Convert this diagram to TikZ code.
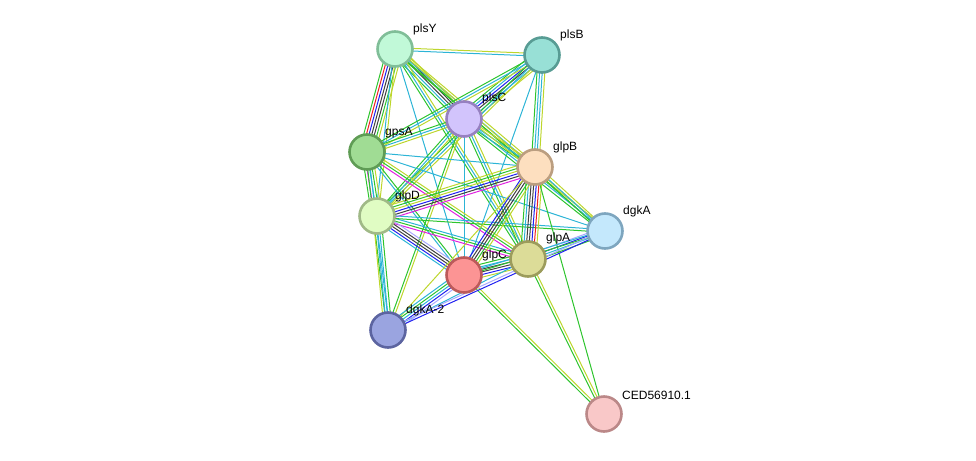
\documentclass[tikz,border=0pt]{standalone}
\usepackage{fontspec}
\setmainfont{Liberation Sans}
\usetikzlibrary{calc}
\definecolor{cN}{HTML}{2DC42D}
\definecolor{cF}{HTML}{F02020}
\definecolor{cC}{HTML}{2020F0}
\definecolor{cX}{HTML}{404040}
\definecolor{cE}{HTML}{E020E0}
\definecolor{cD}{HTML}{2CB4D6}
\definecolor{cT}{HTML}{BDD62C}
\definecolor{cH}{HTML}{A8A8FF}
\tikzset{
  eN/.style={draw=cN}, eF/.style={draw=cF}, eC/.style={draw=cC}, eX/.style={draw=cX},
  eE/.style={draw=cE}, eD/.style={draw=cD}, eT/.style={draw=cT}, eH/.style={draw=cH},
  prot/.style={circle, minimum size=35pt, inner sep=0pt, line width=2.6pt},
  lab/.style={anchor=south west, font=\fontsize{12}{14}\selectfont, inner sep=0pt, text=black}
}
\newcommand\edgeset[4]{%
  \foreach \cc [count=\ii] in {#4} {%
    \pgfmathsetmacro\off{(\ii-(#3+1)/2)*2.6}%
    \draw[\cc, line width=1pt] ($(#1)!\off pt!90:(#2)$) -- ($(#2)!\off pt!-90:(#1)$);
  }%
}
\begin{document}
\begin{tikzpicture}[x=1pt,y=-1pt]
\useasboundingbox (0,0) rectangle (976,460);
\coordinate (plsY) at (395,49);
\coordinate (plsB) at (542,55);
\coordinate (plsC) at (464,119);
\coordinate (gpsA) at (367,152);
\coordinate (glpB) at (535,167);
\coordinate (glpD) at (377,216);
\coordinate (dgkA) at (605,231);
\coordinate (glpA) at (528,259);
\coordinate (glpC) at (464,275);
\coordinate (dgkA2) at (388,330);
\coordinate (CED) at (604,414);
% edges
\edgeset{plsY}{plsB}{2}{eD,eT}
\edgeset{plsY}{plsC}{5}{eN,eD,eX,eX,eT}
\edgeset{plsY}{gpsA}{7}{eN,eF,eC,eX,eX,eN,eT}
\edgeset{plsY}{glpD}{2}{eD,eT}
\edgeset{plsY}{glpB}{3}{eN,eD,eT}
\edgeset{plsY}{glpA}{3}{eN,eD,eT}
\edgeset{plsY}{glpC}{1}{eD}
\edgeset{plsY}{dgkA}{2}{eN,eT}
\edgeset{plsB}{plsC}{6}{eN,eD,eC,eX,eD,eT}
\edgeset{plsB}{gpsA}{3}{eN,eD,eT}
\edgeset{plsB}{glpD}{3}{eN,eD,eT}
\edgeset{plsB}{glpB}{4}{eN,eD,eD,eT}
\edgeset{plsB}{glpC}{1}{eD}
\edgeset{plsC}{gpsA}{3}{eN,eD,eT}
\edgeset{plsC}{glpD}{3}{eN,eD,eT}
\edgeset{plsC}{glpB}{3}{eN,eD,eT}
\edgeset{plsC}{glpA}{3}{eN,eD,eT}
\edgeset{plsC}{glpC}{1}{eD}
\edgeset{plsC}{dgkA}{3}{eN,eD,eT}
\edgeset{plsC}{dgkA2}{2}{eN,eT}
\edgeset{gpsA}{glpD}{5}{eN,eE,eD,eN,eT}
\edgeset{gpsA}{glpB}{1}{eD}
\edgeset{gpsA}{glpA}{3}{eE,eN,eT}
\edgeset{gpsA}{glpC}{2}{eD,eN}
\edgeset{gpsA}{dgkA}{1}{eD}
\edgeset{gpsA}{dgkA2}{2}{eN,eD}
\edgeset{glpD}{glpB}{6}{eE,eX,eC,eT,eN,eT}
\edgeset{glpD}{glpA}{3}{eE,eN,eD}
\edgeset{glpD}{glpC}{5}{eD,eC,eX,eX,eH}
\edgeset{glpD}{dgkA}{2}{eN,eD}
\edgeset{glpD}{dgkA2}{4}{eT,eD,eD,eN}
\edgeset{glpB}{glpA}{7}{eN,eD,eX,eX,eC,eF,eT}
\edgeset{glpB}{glpC}{5}{eC,eX,eX,eN,eT}
\edgeset{glpB}{dgkA}{3}{eN,eD,eT}
\edgeset{glpB}{dgkA2}{1}{eT}
\edgeset{glpB}{CED}{1}{eN}
\edgeset{glpA}{glpC}{6}{eN,eD,eX,eX,eC,eT}
\edgeset{glpA}{dgkA}{4}{eN,eD,eC,eH}
\edgeset{glpA}{CED}{2}{eN,eT}
\edgeset{glpA}{dgkA2}{1}{eD}
\edgeset{glpC}{dgkA2}{5}{eD,eN,eD,eC,eH}
\edgeset{glpC}{dgkA}{2}{eN,eD}
\edgeset{glpC}{CED}{2}{eN,eT}
\edgeset{dgkA2}{dgkA}{2}{eC,eH}
% nodes
\node[prot, fill={rgb,255:red,193;green,249;blue,216}, draw={rgb,255:red,128;green,190;blue,152}] (nplsY) at (plsY) {};
\node[prot, fill={rgb,255:red,152;green,224;blue,214}, draw={rgb,255:red,88;green,156;blue,148}] (nplsB) at (plsB) {};
\node[prot, fill={rgb,255:red,210;green,196;blue,252}, draw={rgb,255:red,150;green,128;blue,192}] (nplsC) at (plsC) {};
\node[prot, fill={rgb,255:red,160;green,220;blue,148}, draw={rgb,255:red,95;green,156;blue,85}] (ngpsA) at (gpsA) {};
\node[prot, fill={rgb,255:red,253;green,223;blue,191}, draw={rgb,255:red,187;green,158;blue,128}] (nglpB) at (glpB) {};
\node[prot, fill={rgb,255:red,224;green,252;blue,195}, draw={rgb,255:red,160;green,185;blue,135}] (nglpD) at (glpD) {};
\node[prot, fill={rgb,255:red,196;green,232;blue,252}, draw={rgb,255:red,126;green,166;blue,191}] (ndgkA) at (dgkA) {};
\node[prot, fill={rgb,255:red,220;green,220;blue,152}, draw={rgb,255:red,156;green,156;blue,92}] (nglpA) at (glpA) {};
\node[prot, fill={rgb,255:red,252;green,148;blue,148}, draw={rgb,255:red,188;green,90;blue,90}] (nglpC) at (glpC) {};
\node[prot, fill={rgb,255:red,154;green,164;blue,224}, draw={rgb,255:red,92;green,100;blue,160}] (ndgkA2) at (dgkA2) {};
\node[prot, fill={rgb,255:red,249;green,200;blue,200}, draw={rgb,255:red,187;green,136;blue,136}] (nCED) at (CED) {};
% labels
\node[lab] (lplsY) at (413,35) {plsY};
\node[lab] (lplsB) at (560,41) {plsB};
\node[lab] (lplsC) at (482,104) {plsC};
\node[lab] (lgpsA) at (385,138) {gpsA};
\node[lab] (lglpB) at (553,153) {glpB};
\node[lab] (lglpD) at (395,202) {glpD};
\node[lab] (ldgkA) at (623,217) {dgkA};
\node[lab] (lglpA) at (546,244) {glpA};
\node[lab] (lglpC) at (482,261) {glpC};
\node[lab] (ldgkA2) at (406,316) {dgkA-2};
\node[lab] (lCED) at (622,400) {CED56910.1};
\end{tikzpicture}
\end{document}
